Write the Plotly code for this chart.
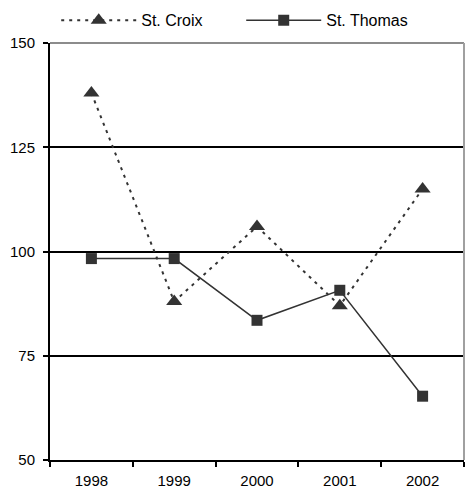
import plotly.graph_objects as go

# Annual index values for the two islands
years = ["1998", "1999", "2000", "2001", "2002"]
st_croix = [138, 88, 106, 87, 115]
st_thomas = [98.3, 98.3, 83.5, 90.7, 65.3]
y_ticks = [50, 75, 100, 125, 150]

INK = "#333333"
FONT = "Liberation Sans, Arial, sans-serif"

fig = go.Figure()
fig.add_trace(go.Scatter(
    x=years, y=st_croix, name="St. Croix", mode="lines+markers",
    line=dict(color=INK, width=2, dash="3px,5px"),
    marker=dict(symbol="triangle-up", size=14, color=INK),
))
fig.add_trace(go.Scatter(
    x=years, y=st_thomas, name="St. Thomas", mode="lines+markers",
    line=dict(color=INK, width=1.5),
    marker=dict(symbol="square", size=11, color=INK),
))

# grey frame on the top and right edges of the plot area
fig.add_shape(type="line", xref="paper", yref="paper", x0=0, x1=1, y0=1, y1=1,
              line=dict(color="#8c8c8c", width=2), layer="above")
fig.add_shape(type="line", xref="paper", yref="paper", x0=1, x1=1, y0=0, y1=1,
              line=dict(color="#a0a0a0", width=2), layer="above")

fig.update_layout(
    width=468, height=491,
    margin=dict(l=50, r=4, t=42, b=31),
    paper_bgcolor="white", plot_bgcolor="white",
    font=dict(family=FONT, size=14, color="black"),
    showlegend=True,
    legend=dict(
        orientation="h", x=0.015, xanchor="left", y=1.052, yanchor="middle",
        font=dict(family=FONT, size=16, color="black"),
        itemwidth=75, entrywidth=95, entrywidthmode="pixels",
        bgcolor="rgba(0,0,0,0)",
    ),
    xaxis=dict(
        type="category", range=[-0.5, 4.5], tickson="boundaries",
        ticks="outside", ticklen=5, tickwidth=1.5, tickcolor="black",
        ticklabelstandoff=6, automargin=False,
        showline=True, linecolor="black", linewidth=2, showgrid=False,
        tickfont=dict(family=FONT, size=15, color="black"),
    ),
    yaxis=dict(
        range=[50, 150], tickvals=y_ticks, ticktext=[str(v) for v in y_ticks],
        ticks="outside", ticklen=5, tickwidth=1.5, tickcolor="black",
        ticklabelstandoff=5, automargin=False,
        showline=True, linecolor="black", linewidth=2,
        showgrid=True, gridcolor="black", gridwidth=2, zeroline=False,
        tickfont=dict(family=FONT, size=15, color="black"),
    ),
)

fig.write_html("out.html")
